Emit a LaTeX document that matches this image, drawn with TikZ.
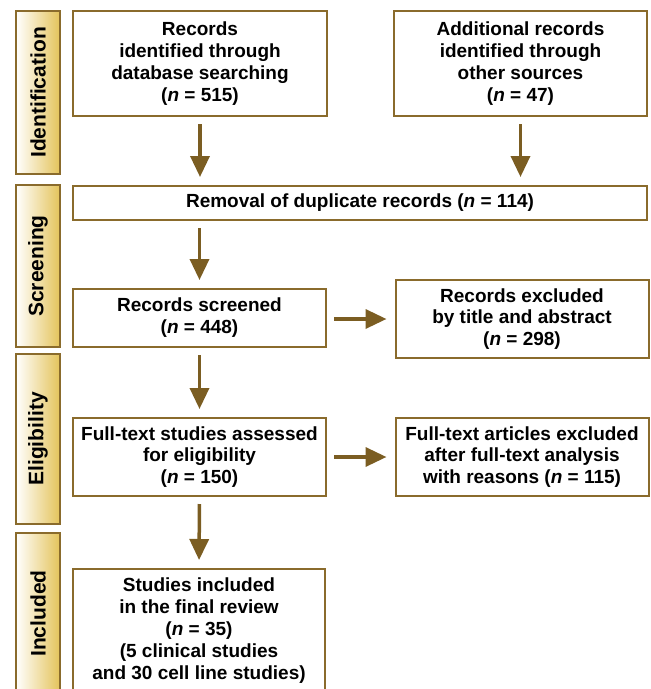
\documentclass[tikz,border=0pt]{standalone}
\usepackage{fontspec}
\setmainfont{Liberation Sans}
\usetikzlibrary{arrows,arrows.meta}
\usetikzlibrary{positioning}
\definecolor{brd}{HTML}{8A6B2C}
\definecolor{arw}{HTML}{7B5D22}
\definecolor{gld}{HTML}{E4C35A}
\tikzstyle{box}=[rectangle, draw=brd, line width=2pt, fill=white, text=black,
		align=center, inner sep=0pt, font=\fontsize{19}{21.9}\selectfont\bfseries]
\tikzstyle{stage}=[rectangle, draw=brd, line width=2pt, left color=white,
		right color=gld, minimum width=44pt, inner sep=0pt,
		font=\fontsize{21}{24}\selectfont\bfseries]
\tikzstyle{flow}=[arw, line width=3.5pt, -{Triangle[length=21pt,width=19pt]},
		shorten <=7pt, shorten >=8pt]

\begin{document}
\begin{tikzpicture}[x=1pt,y=-1pt]

  \clip (0,0) rectangle (651,689);

    % phases
    \node (Idf) [stage, minimum height=163pt] at (38,92.5)
      {\rotatebox{90}{Identification}};
    \node (Scg) [stage, minimum height=162pt] at (38,266)
      {\rotatebox{90}{Screening}};
    \node (Elg) [stage, minimum height=170pt] at (38,439)
      {\rotatebox{90}{Eligibility}};
    \node (Icl) [stage, minimum height=161pt] at (38,613.5)
      {\rotatebox{90}{Included}};

    % identification
    \node (Rec) [box, minimum width=254pt, minimum height=105pt] at (200,63.5) {
      Records\\
      identified through\\
      database searching\\
      (\textit{n} = 515)
    };

    \node (Add) [box, minimum width=253pt, minimum height=105pt] at (520.5,63.5) {
      Additional records\\
      identified through\\
      other sources\\
      (\textit{n} = 47)
    };

    % screening
    \node (Dup) [box, minimum width=574pt, minimum height=34pt] at (360,203)
      {Removal of duplicate records (\textit{n} = 114)};

    \node (Scr) [box, minimum width=253pt, minimum height=58pt] at (199.5,318) {
      Records screened\\
      (\textit{n} = 448)
    };

    \node (ExA) [box, minimum width=253pt, minimum height=78pt] at (522,319) {
      Records excluded\\
      by title and abstract\\
      (\textit{n} = 298)
    };

    % eligibility
    \node (Ful) [box, minimum width=253pt, minimum height=78pt] at (199.5,457) {
      Full-text studies assessed\\
      for eligibility\\
      (\textit{n} = 150)
    };

    \node (ExF) [box, minimum width=253pt, minimum height=78pt] at (522,457) {
      Full-text articles excluded\\
      after full-text analysis\\
      with reasons (\textit{n} = 115)
    };

    % included
    \node (Inc) [box, minimum width=252pt, minimum height=123pt, anchor=north]
      at (199,568) {
      Studies included\\
      in the final review\\
      (\textit{n} = 35)\\
      (5 clinical studies\\
      and 30 cell line studies)
    };

    % arrows
    \draw [flow] (Rec.south) -- (Rec.south |- Dup.north);
    \draw [flow] (Add.south) -- (Add.south |- Dup.north);
    \draw [flow] (Dup.south -| Scr) -- (Scr.north);
    \draw [flow] (Scr.east |- ExA) -- (ExA.west);
    \draw [flow] (Scr.south) -- (Ful.north);
    \draw [flow] (Ful.east) -- (ExF.west);
    \draw [flow] (Ful.south) -- (Inc.north);

  \end{tikzpicture}
\end{document}
